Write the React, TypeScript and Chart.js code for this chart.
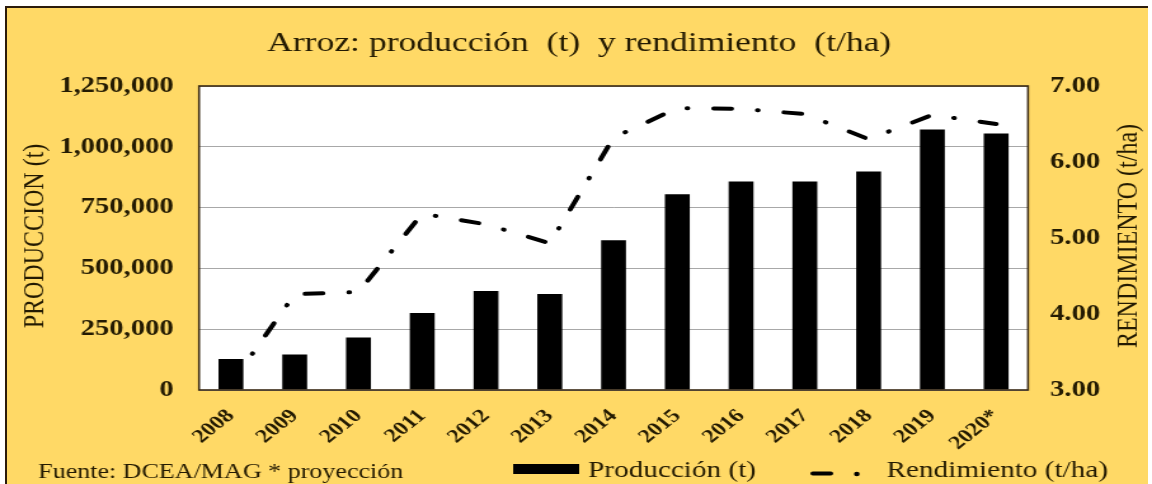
import React, { useEffect, useRef } from "react";
import { Chart, registerables } from "chart.js";

Chart.register(...registerables);

// ---- data ----
const categories = ["2008", "2009", "2010", "2011", "2012", "2013", "2014", "2015", "2016", "2017", "2018", "2019", "2020*"];
const produccion = [127000, 146000, 216000, 317000, 407000, 395000, 616000, 805000, 857000, 857000, 898000, 1071000, 1055000];
const rendimiento = [3.08, 4.26, 4.29, 5.32, 5.18, 4.93, 6.32, 6.71, 6.7, 6.63, 6.3, 6.62, 6.5];
const leftTickStep = 250000;
const leftMax = 1250000;
const rightMin = 3;
const rightMax = 7;

const TITLE = "Arroz: producción  (t)  y rendimiento  (t/ha)";
const LEFT_TITLE = "PRODUCCION (t)";
const RIGHT_TITLE = "RENDIMIENTO (t/ha)";
const LEGEND_BAR = "Producción (t)";
const LEGEND_LINE = "Rendimiento (t/ha)";
const SOURCE = "Fuente: DCEA/MAG * proyección";

// ---- layout (canvas drawn narrower, then stretched horizontally like the reference) ----
const W = 907;
const H = 484;
const S = 1152 / W;
const FAMILY = '"Liberation Serif", "Times New Roman", serif';
const TEXT = "#231a02";
const DASH = [14, 20.5, 0.5, 20.5];

const textPlugin = {
  id: "decor",
  beforeDraw(chart: any) {
    const { ctx, chartArea: a } = chart;
    ctx.save();
    ctx.fillStyle = "#ffffff";
    ctx.fillRect(a.left, a.top, a.right - a.left, a.bottom - a.top);
    ctx.restore();
  },
  afterDraw(chart: any) {
    const { ctx, chartArea: a } = chart;
    ctx.save();
    // plot border
    ctx.strokeStyle = "#3a2a14";
    ctx.lineWidth = 1.6;
    ctx.strokeRect(a.left, a.top, a.right - a.left, a.bottom - a.top);

    ctx.fillStyle = TEXT;
    // title
    ctx.font = `normal 28px ${FAMILY}`;
    ctx.textAlign = "center";
    ctx.textBaseline = "alphabetic";
    ctx.fillText(TITLE, 456, 51);

    // axis titles (both read bottom to top)
    ctx.font = `normal 24px ${FAMILY}`;
    ctx.save();
    ctx.translate(34, (a.top + a.bottom) / 2 - 2);
    ctx.rotate(-Math.PI / 2);
    ctx.fillText(LEFT_TITLE, 0, 0);
    ctx.restore();
    ctx.save();
    ctx.translate(895, (a.top + a.bottom) / 2 - 2);
    ctx.rotate(-Math.PI / 2);
    ctx.fillText(RIGHT_TITLE, 0, 0);
    ctx.restore();

    // source
    ctx.textAlign = "left";
    ctx.font = `normal 20.5px ${FAMILY}`;
    ctx.fillText(SOURCE, 30, 478);

    // legend: bar
    ctx.fillStyle = "#000";
    ctx.fillRect(404, 464, 52, 10);
    ctx.fillStyle = TEXT;
    ctx.font = `normal 23px ${FAMILY}`;
    ctx.fillText(LEGEND_BAR, 463, 476.5);

    // legend: line
    ctx.strokeStyle = "#000";
    ctx.lineWidth = 4;
    ctx.lineCap = "round";
    ctx.beginPath();
    ctx.moveTo(640, 473.5);
    ctx.lineTo(654, 473.5);
    ctx.stroke();
    ctx.beginPath();
    ctx.arc(674.6, 474, 2.2, 0, Math.PI * 2);
    ctx.fillStyle = "#000";
    ctx.fill();
    ctx.fillStyle = TEXT;
    ctx.fillText(LEGEND_LINE, 698, 476.5);
    ctx.restore();
  },
};

export default function App() {
  const ref = useRef<HTMLCanvasElement | null>(null);

  useEffect(() => {
    if (!ref.current) return;
    const chart = new Chart(ref.current, {
      type: "bar",
      data: {
        labels: categories,
        datasets: [
          {
            type: "line",
            label: LEGEND_LINE,
            data: rendimiento,
            yAxisID: "y1",
            borderColor: "#000",
            backgroundColor: "#000",
            borderWidth: 4,
            borderDash: DASH,
            borderCapStyle: "round",
            borderJoinStyle: "round",
            pointRadius: 0,
            tension: 0,
            fill: false,
            order: 1,
          } as any,
          {
            type: "bar",
            label: LEGEND_BAR,
            data: produccion,
            yAxisID: "y",
            backgroundColor: "#000",
            borderWidth: 0,
            barPercentage: 0.39,
            categoryPercentage: 1,
            order: 2,
          } as any,
        ],
      },
      options: {
        responsive: false,
        animation: false,
        events: [],
        layout: { padding: { top: 86, left: 0, right: 0, bottom: 0 } },
        plugins: {
          legend: { display: false },
          title: { display: false },
          tooltip: { enabled: false },
        },
        scales: {
          x: {
            grid: { display: false, drawTicks: false },
            border: { display: false },
            ticks: {
              autoSkip: false,
              minRotation: 45,
              maxRotation: 45,
              padding: 15,
              color: TEXT,
              font: { family: FAMILY, size: 19, weight: "bold" },
            },
            afterFit: (s: any) => {
              s.height = 94;
            },
          },
          y: {
            position: "left",
            min: 0,
            max: leftMax,
            grid: { color: "#a8a8a8", lineWidth: 1, drawTicks: false },
            border: { display: false },
            ticks: {
              stepSize: leftTickStep,
              padding: 20,
              color: TEXT,
              font: { family: FAMILY, size: 22.5, weight: "bold" },
              callback: (v: any) => Number(v).toLocaleString("en-US"),
            },
            afterFit: (s: any) => {
              s.width = 156.7;
            },
          },
          y1: {
            position: "right",
            min: rightMin,
            max: rightMax,
            grid: { display: false, drawTicks: false },
            border: { display: false },
            ticks: {
              stepSize: 1,
              padding: 17.4,
              color: TEXT,
              font: { family: FAMILY, size: 22.5, weight: "bold" },
              callback: (v: any) => Number(v).toFixed(2),
            },
            afterFit: (s: any) => {
              s.width = W - 809.4;
            },
          },
        },
      } as any,
      plugins: [textPlugin],
    });
    return () => chart.destroy();
  }, []);

  return (
    <div style={{ position: "fixed", left: 0, top: 0, width: 1152, height: 484, background: "#ffffff", overflow: "hidden" }}>
      <div
        style={{
          position: "absolute",
          left: 5,
          top: 6,
          width: 1143,
          height: 478,
          background: "#FFD966",
          borderTop: "2px solid #2b1b0b",
          borderLeft: "2px solid #2b1b0b",
          boxSizing: "border-box",
        }}
      />
      <div style={{ position: "absolute", left: 0, top: 0, width: W, height: H, transform: `scaleX(${S})`, transformOrigin: "0 0" }}>
        <canvas ref={ref} width={W} height={H} style={{ display: "block", width: W, height: H }} />
      </div>
    </div>
  );
}
